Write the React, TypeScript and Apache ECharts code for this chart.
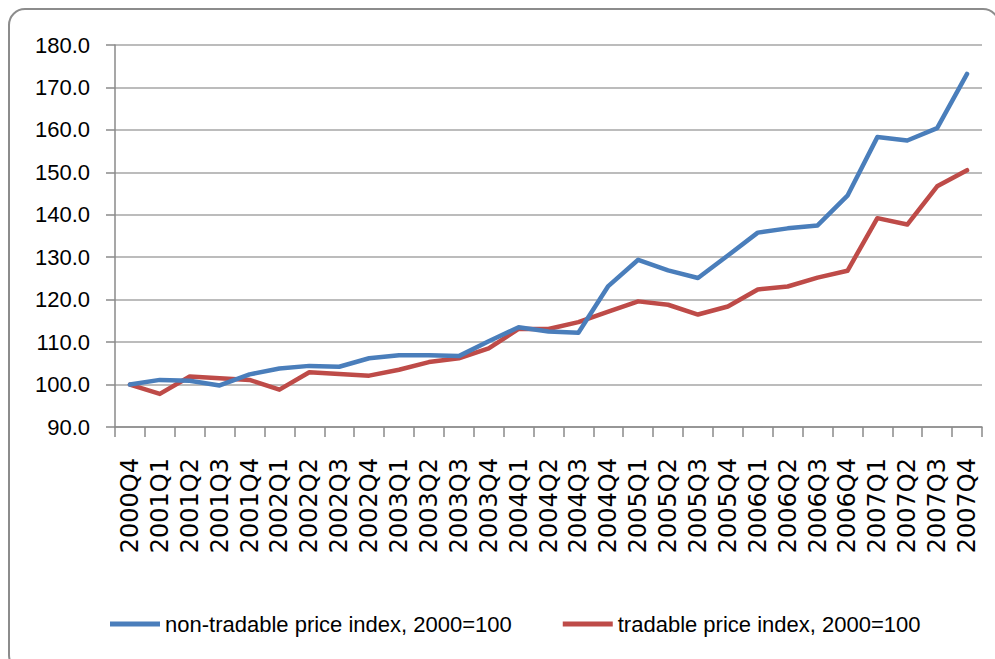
import React, { useEffect, useRef } from "react";
import * as echarts from "echarts";

const categories = [
  "2000Q4", "2001Q1", "2001Q2", "2001Q3", "2001Q4", "2002Q1", "2002Q2", "2002Q3",
  "2002Q4", "2003Q1", "2003Q2", "2003Q3", "2003Q4", "2004Q1", "2004Q2", "2004Q3",
  "2004Q4", "2005Q1", "2005Q2", "2005Q3", "2005Q4", "2006Q1", "2006Q2", "2006Q3",
  "2006Q4", "2007Q1", "2007Q2", "2007Q3", "2007Q4",
];

const nonTradable = [
  100.0, 101.1, 100.9, 99.8, 102.4, 103.8, 104.4, 104.2, 106.2, 106.9, 106.9, 106.7,
  110.2, 113.5, 112.5, 112.2, 123.2, 129.4, 126.9, 125.1, 130.4, 135.8, 136.8, 137.5,
  144.5, 158.3, 157.5, 160.4, 173.2,
];

const tradable = [
  100.0, 97.8, 101.9, 101.5, 101.1, 98.8, 102.9, 102.5, 102.1, 103.5, 105.3, 106.2,
  108.5, 113.1, 113.1, 114.7, 117.2, 119.6, 118.8, 116.5, 118.4, 122.4, 123.1, 125.2,
  126.8, 139.2, 137.7, 146.7, 150.5,
];

const seriesNames = [
  "non-tradable price index, 2000=100",
  "tradable price index, 2000=100",
];

const yMin = 90;
const yMax = 180;
const yStep = 10;

export default function App() {
  const ref = useRef<HTMLDivElement>(null);

  useEffect(() => {
    if (!ref.current) return;
    const chart = echarts.init(ref.current, null, { renderer: "svg" });
    const font = "Liberation Sans, Arial, sans-serif";
    chart.setOption({
      animation: false,
      backgroundColor: "#ffffff",
      graphic: [
        {
          type: "rect",
          shape: { x: 9, y: 9, width: 990, height: 662, r: 16 },
          style: { fill: "none", stroke: "#8c8c8c", lineWidth: 2 },
          silent: true,
        },
      ],
      grid: { left: 115, right: 13, top: 45, bottom: 232, containLabel: false },
      legend: {
        left: 105,
        top: 606,
        icon: "rect",
        itemWidth: 50,
        itemHeight: 5,
        itemGap: 51,
        textStyle: { fontFamily: font, fontSize: 22, color: "#000", lineHeight: 26 },
        data: seriesNames,
      },
      xAxis: {
        type: "category",
        data: categories,
        boundaryGap: true,
        axisLine: { lineStyle: { color: "#8a8a8a", width: 1.5 } },
        axisTick: { show: true, length: 10, interval: 0, lineStyle: { color: "#8a8a8a", width: 1.5 } },
        axisLabel: {
          interval: 0,
          rotate: 90,
          margin: 31,
          fontFamily: "DejaVu Sans, sans-serif",
          fontSize: 24,
          color: "#000",
        },
        splitLine: { show: false },
      },
      yAxis: {
        type: "value",
        min: yMin,
        max: yMax,
        interval: yStep,
        axisLine: { show: true, lineStyle: { color: "#8a8a8a", width: 1.5 } },
        axisTick: { show: true, length: 9, lineStyle: { color: "#8a8a8a", width: 1.5 } },
        axisLabel: {
          margin: 25,
          fontFamily: font,
          fontSize: 22,
          color: "#000",
          formatter: (v: number) => v.toFixed(1),
        },
        splitLine: { show: true, lineStyle: { color: "#a6a6a6", width: 1.5 } },
      },
      series: [
        {
          name: seriesNames[0],
          type: "line",
          data: nonTradable,
          symbol: "none",
          itemStyle: { color: "#4a7ebb" },
          lineStyle: { color: "#4a7ebb", width: 4.5, cap: "round", join: "round" },
          z: 3,
        },
        {
          name: seriesNames[1],
          type: "line",
          data: tradable,
          symbol: "none",
          itemStyle: { color: "#be4b48" },
          lineStyle: { color: "#be4b48", width: 4.5, cap: "round", join: "round" },
          z: 2,
        },
      ],
    });
    return () => chart.dispose();
  }, []);

  return (
    <div
      ref={ref}
      style={{ position: "fixed", left: 0, top: 0, width: 995, height: 659, background: "#fff" }}
    />
  );
}
